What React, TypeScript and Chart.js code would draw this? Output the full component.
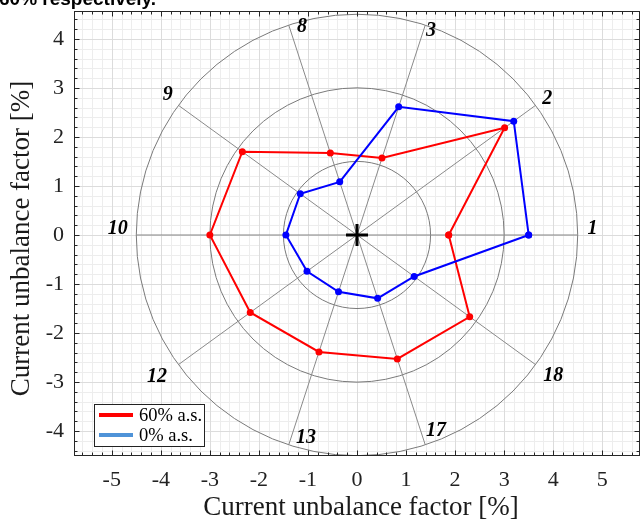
import React, { useEffect, useRef } from "react";
import { Chart, registerables } from "chart.js";
Chart.register(...registerables);

// Spoke (category) definitions
const spokeAngles = [0, 36, 72, 108, 144, 180, 216, 252, 288, 324];
const spokeLabels = ["1", "2", "3", "8", "9", "10", "12", "13", "17", "18"];
const labelX = [4.8, 3.88, 1.51, -1.12, -3.86, -4.88, -4.08, -1.04, 1.61, 4.0];
const labelY = [0.12, 2.78, 4.17, 4.24, 2.86, 0.12, -2.9, -4.13, -4.0, -2.88];

// Series values: radius (current unbalance factor, %) per spoke
const seriesNames = ["60% a.s.", "0% a.s."];
const series60 = [1.87, 3.72, 1.65, 1.76, 2.89, 3.0, 2.69, 2.51, 2.66, 2.84];
const series0 = [3.5, 3.95, 2.75, 1.14, 1.43, 1.45, 1.26, 1.22, 1.36, 1.44];

const ringRadii = [1.5, 3, 4.5];
const xTicks = [-5, -4, -3, -2, -1, 0, 1, 2, 3, 4, 5];
const yTicks = [-4, -3, -2, -1, 0, 1, 2, 3, 4];
const xRange = [-5.77, 5.77];
const yRange = [-4.51, 4.57];

const axisTitle = "Current unbalance factor [%]";
const pageTitle = "60% respectively.";

const SERIF = "'Liberation Serif', 'Times New Roman', serif";

function toXY(r: number, deg: number) {
  const a = (deg * Math.PI) / 180;
  return { x: r * Math.cos(a), y: r * Math.sin(a) };
}
function closedPolygon(vals: number[]) {
  const pts = vals.map((r, i) => toXY(r, spokeAngles[i]));
  pts.push(pts[0]);
  return pts;
}

const decorPlugin = {
  id: "decor",
  beforeDatasetsDraw(chart: any) {
    const { ctx, chartArea: ca, scales } = chart;
    const xs = scales.x, ys = scales.y;
    const px = (v: number) => xs.getPixelForValue(v);
    const py = (v: number) => ys.getPixelForValue(v);
    ctx.save();
    ctx.beginPath();
    ctx.rect(ca.left, ca.top, ca.right - ca.left, ca.bottom - ca.top);
    ctx.clip();
    // minor grid
    ctx.lineWidth = 1;
    ctx.strokeStyle = "#ededed";
    for (let i = -29; i <= 29; i++) {
      if (i % 5 === 0) continue;
      const v = i * 0.2;
      const X = Math.round(px(v)) + 0.5;
      ctx.beginPath(); ctx.moveTo(X, ca.top); ctx.lineTo(X, ca.bottom); ctx.stroke();
      const Y = Math.round(py(v)) + 0.5;
      ctx.beginPath(); ctx.moveTo(ca.left, Y); ctx.lineTo(ca.right, Y); ctx.stroke();
    }
    // major grid
    ctx.strokeStyle = "#dcdcdc";
    xTicks.forEach((v) => {
      const X = Math.round(px(v)) + 0.5;
      ctx.beginPath(); ctx.moveTo(X, ca.top); ctx.lineTo(X, ca.bottom); ctx.stroke();
    });
    yTicks.forEach((v) => {
      const Y = Math.round(py(v)) + 0.5;
      ctx.beginPath(); ctx.moveTo(ca.left, Y); ctx.lineTo(ca.right, Y); ctx.stroke();
    });
    // rings
    ctx.strokeStyle = "#7a7a7a";
    ctx.lineWidth = 1;
    const cx = px(0), cy = py(0);
    const unit = px(1) - px(0);
    ringRadii.forEach((r) => {
      ctx.beginPath(); ctx.arc(cx, cy, r * unit, 0, Math.PI * 2); ctx.stroke();
    });
    // spokes
    ctx.strokeStyle = "#8a8a8a";
    const rMax = ringRadii[ringRadii.length - 1];
    spokeAngles.forEach((a) => {
      const p = toXY(rMax, a);
      ctx.beginPath(); ctx.moveTo(cx, cy); ctx.lineTo(px(p.x), py(p.y)); ctx.stroke();
    });
    ctx.restore();
  },
  afterDatasetsDraw(chart: any) {
    const { ctx, chartArea: ca, scales } = chart;
    const xs = scales.x, ys = scales.y;
    const px = (v: number) => xs.getPixelForValue(v);
    const py = (v: number) => ys.getPixelForValue(v);
    ctx.save();
    // spoke labels
    ctx.fillStyle = "#000";
    ctx.font = `italic bold 20px ${SERIF}`;
    ctx.textAlign = "center";
    ctx.textBaseline = "middle";
    spokeLabels.forEach((t, i) => ctx.fillText(t, px(labelX[i]), py(labelY[i])));
    // box
    ctx.strokeStyle = "#262626";
    ctx.lineWidth = 1;
    const L = Math.round(ca.left) + 0.5, R = Math.round(ca.right) - 0.5;
    const T = Math.round(ca.top) + 0.5, B = Math.round(ca.bottom) - 0.5;
    ctx.strokeRect(L, T, R - L, B - T);
    // ticks
    const tick = (v: number, major: boolean, horiz: boolean) => {
      const len = major ? 5 : 3;
      if (horiz) {
        const X = Math.round(px(v)) + 0.5;
        ctx.beginPath(); ctx.moveTo(X, B); ctx.lineTo(X, B - len); ctx.stroke();
        ctx.beginPath(); ctx.moveTo(X, T); ctx.lineTo(X, T + len); ctx.stroke();
      } else {
        const Y = Math.round(py(v)) + 0.5;
        ctx.beginPath(); ctx.moveTo(L, Y); ctx.lineTo(L + len, Y); ctx.stroke();
        ctx.beginPath(); ctx.moveTo(R, Y); ctx.lineTo(R - len, Y); ctx.stroke();
      }
    };
    for (let i = -28; i <= 28; i++) tick(i * 0.2, i % 5 === 0, true);
    for (let i = -22; i <= 22; i++) tick(i * 0.2, i % 5 === 0, false);
    // legend
    const lx = 94, ly = 404, lw = 110, lh = 42;
    ctx.fillStyle = "#fff";
    ctx.fillRect(lx + 0.5, ly + 0.5, lw, lh);
    ctx.strokeStyle = "#222";
    ctx.strokeRect(lx + 0.5, ly + 0.5, lw, lh);
    const legendColors = ["#ff0000", "#4f93d8"];
    ctx.lineWidth = 4;
    ctx.font = `18.5px ${SERIF}`;
    ctx.textAlign = "left";
    ctx.textBaseline = "middle";
    seriesNames.forEach((n, i) => {
      const yy = ly + 11 + i * 20;
      ctx.strokeStyle = legendColors[i];
      ctx.beginPath(); ctx.moveTo(lx + 5, yy); ctx.lineTo(lx + 39, yy); ctx.stroke();
      ctx.fillStyle = "#000";
      ctx.fillText(n, lx + 45, yy + 1);
    });
    // axis titles
    ctx.fillStyle = "#1a1a1a";
    ctx.font = `27px ${SERIF}`;
    ctx.textAlign = "center";
    ctx.textBaseline = "middle";
    ctx.fillText(axisTitle, (ca.left + ca.right) / 2 + 4, 508);
    ctx.save();
    ctx.translate(22, (ca.top + ca.bottom) / 2 + 5);
    ctx.rotate(-Math.PI / 2);
    ctx.fillText(axisTitle, 0, 0);
    ctx.restore();
    // page title (cropped)
    ctx.fillStyle = "#000";
    ctx.font = "bold 19px 'Liberation Sans', Arial, sans-serif";
    ctx.textAlign = "left";
    ctx.textBaseline = "alphabetic";
    ctx.fillText(pageTitle, -1, 5);
    ctx.restore();
  },
};

function zeroPad(s: any) {
  s.paddingTop = 0;
  s.paddingBottom = 0;
  s.paddingLeft = 0;
  s.paddingRight = 0;
}

export default function App() {
  const ref = useRef<HTMLCanvasElement | null>(null);
  useEffect(() => {
    if (!ref.current) return;
    const chart = new Chart(ref.current, {
      type: "scatter",
      data: {
        datasets: [
          {
            label: "center",
            data: [{ x: 0, y: 0 }],
            pointStyle: "cross",
            pointRadius: 11,
            pointBorderWidth: 3,
            borderColor: "#000",
            backgroundColor: "#000",
            showLine: false,
          } as any,
          {
            label: seriesNames[1],
            data: closedPolygon(series0),
            showLine: true,
            borderColor: "#0000ff",
            backgroundColor: "#0000ff",
            borderWidth: 2,
            pointRadius: 3.5,
            pointBorderWidth: 0,
            tension: 0,
          },
          {
            label: seriesNames[0],
            data: closedPolygon(series60),
            showLine: true,
            borderColor: "#ff0000",
            backgroundColor: "#ff0000",
            borderWidth: 2,
            pointRadius: 3.5,
            pointBorderWidth: 0,
            tension: 0,
          },
        ],
      },
      options: {
        animation: false,
        responsive: false,
        devicePixelRatio: 1,
        layout: { autoPadding: false, padding: { top: 11, right: 3, left: 0, bottom: 0 } },
        plugins: { legend: { display: false }, tooltip: { enabled: false }, title: { display: false } },
        scales: {
          x: {
            type: "linear",
            min: xRange[0],
            max: xRange[1],
            afterBuildTicks: (s: any) => { s.ticks = xTicks.map((v) => ({ value: v })); },
            afterFit: (s: any) => { s.height = 72; zeroPad(s); },
            grid: { display: true, drawOnChartArea: false, drawTicks: false, color: "rgba(0,0,0,0)" },
            border: { display: false },
            ticks: {
              color: "#222",
              padding: 11,
              maxRotation: 0,
              autoSkip: false,
              font: { family: SERIF, size: 22 },
              callback: (v: any) => String(v),
            },
          },
          y: {
            type: "linear",
            min: yRange[0],
            max: yRange[1],
            afterBuildTicks: (s: any) => { s.ticks = yTicks.map((v) => ({ value: v })); },
            afterFit: (s: any) => { s.width = 74; zeroPad(s); },
            grid: { display: true, drawOnChartArea: false, drawTicks: false, color: "rgba(0,0,0,0)" },
            border: { display: false },
            ticks: {
              color: "#222",
              padding: 10,
              autoSkip: false,
              font: { family: SERIF, size: 22 },
              callback: (v: any) => String(v),
            },
          },
        },
      },
      plugins: [decorPlugin],
    });
    return () => chart.destroy();
  }, []);
  return (
    <div style={{ position: "fixed", left: 0, top: 0, width: 643, height: 528, background: "#fff" }}>
      <canvas ref={ref} width={643} height={528} style={{ display: "block", width: 643, height: 528 }} />
    </div>
  );
}
